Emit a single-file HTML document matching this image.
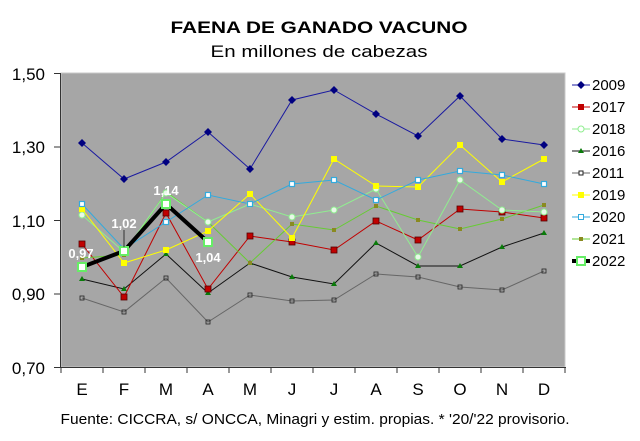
<!DOCTYPE html>
<html><head><meta charset="utf-8"><style>
body{margin:0;background:#fff;}
svg{display:block;font-family:"Liberation Sans",Arial,sans-serif;}
</style></head><body>
<svg width="640" height="441" viewBox="0 0 640 441" xmlns="http://www.w3.org/2000/svg">
<text x="319" y="33" font-size="17" font-weight="bold" text-anchor="middle" textLength="297" lengthAdjust="spacingAndGlyphs">FAENA DE GANADO VACUNO</text>
<text x="319" y="57" font-size="17" text-anchor="middle" textLength="217" lengthAdjust="spacingAndGlyphs">En millones de cabezas</text>
<rect x="61" y="73" width="504" height="294" fill="#a6a6a6" stroke="#c8c8c8" stroke-width="1"/>
<g stroke="#333" stroke-width="1">
<line x1="60.5" y1="73" x2="60.5" y2="368"/>
<line x1="60" y1="367.5" x2="566" y2="367.5"/>
<line x1="54" y1="73.5" x2="61" y2="73.5"/><line x1="54" y1="147" x2="61" y2="147"/><line x1="54" y1="220.5" x2="61" y2="220.5"/><line x1="54" y1="294" x2="61" y2="294"/><line x1="54" y1="367.5" x2="61" y2="367.5"/>
<line x1="103" y1="367" x2="103" y2="373"/><line x1="145" y1="367" x2="145" y2="373"/><line x1="187" y1="367" x2="187" y2="373"/><line x1="229" y1="367" x2="229" y2="373"/><line x1="271" y1="367" x2="271" y2="373"/><line x1="313" y1="367" x2="313" y2="373"/><line x1="355" y1="367" x2="355" y2="373"/><line x1="397" y1="367" x2="397" y2="373"/><line x1="439" y1="367" x2="439" y2="373"/><line x1="481" y1="367" x2="481" y2="373"/><line x1="523" y1="367" x2="523" y2="373"/><line x1="565" y1="367" x2="565" y2="373"/><line x1="61" y1="367" x2="61" y2="373"/>
</g>
<g font-size="17" text-anchor="end">
<text x="45" y="80">1,50</text><text x="45" y="153">1,30</text><text x="45" y="227">1,10</text><text x="45" y="300">0,90</text><text x="45" y="374">0,70</text>
</g>
<g font-size="17" text-anchor="middle">
<text x="82" y="395">E</text><text x="124" y="395">F</text><text x="166" y="395">M</text><text x="208" y="395">A</text><text x="250" y="395">M</text><text x="292" y="395">J</text><text x="334" y="395">J</text><text x="376" y="395">A</text><text x="418" y="395">S</text><text x="460" y="395">O</text><text x="502" y="395">N</text><text x="544" y="395">D</text>
</g>
<text x="315" y="424" font-size="15" text-anchor="middle" textLength="509" lengthAdjust="spacingAndGlyphs">Fuente: CICCRA, s/ ONCCA, Minagri y estim. propias. * '20/'22 provisorio.</text>

<!-- 2011 -->
<polyline fill="none" stroke="#666" stroke-width="1" points="82,298 124,312 166,278 208,322 250,295 292,301 334,300 376,274 418,277 460,287 502,290 544,271"/>
<!-- 2016 -->
<polyline fill="none" stroke="#111" stroke-width="1" points="82,279 124,289 166,254 208,293 250,263 292,277 334,284 376,243 418,266 460,266 502,247 544,233"/>
<!-- 2017 -->
<polyline fill="none" stroke="#c00000" stroke-width="1" points="82,244 124,297 166,213 208,289 250,236 292,242 334,250 376,221 418,240 460,209 502,212 544,218"/>
<!-- 2021 -->
<polyline fill="none" stroke="#66cc33" stroke-width="1" points="82,258 124,255 166,192 208,222 250,263 292,224 334,230 376,206 418,220 460,229 502,219 544,205"/>
<!-- 2018 -->
<polyline fill="none" stroke="#90ee90" stroke-width="1" points="82,215 124,252 166,193 208,222 250,204 292,217 334,210 376,189 418,257 460,180 502,210 544,212"/>
<!-- 2019 -->
<polyline fill="none" stroke="#ffff00" stroke-width="1" points="82,209 124,263 166,250 208,231 250,194 292,238 334,159 376,186 418,187 460,145 502,182 544,159"/>
<!-- 2020 -->
<polyline fill="none" stroke="#33aadd" stroke-width="1" points="82,204 124,249 166,222 208,195 250,204 292,184 334,180 376,200 418,180 460,171 502,175 544,184"/>
<!-- 2009 -->
<polyline fill="none" stroke="#1a1aa0" stroke-width="1" points="82,143 124,179 166,162 208,132 250,169 292,100 334,90 376,114 418,136 460,96 502,139 544,145"/>

<g fill="#333" stroke="#222" stroke-width="0.8">
<rect x="80" y="296" width="4" height="4" fill="none"/><rect x="122" y="310" width="4" height="4" fill="none"/><rect x="164" y="276" width="4" height="4" fill="none"/><rect x="206" y="320" width="4" height="4" fill="none"/><rect x="248" y="293" width="4" height="4" fill="none"/><rect x="290" y="299" width="4" height="4" fill="none"/><rect x="332" y="298" width="4" height="4" fill="none"/><rect x="374" y="272" width="4" height="4" fill="none"/><rect x="416" y="275" width="4" height="4" fill="none"/><rect x="458" y="285" width="4" height="4" fill="none"/><rect x="500" y="288" width="4" height="4" fill="none"/><rect x="542" y="269" width="4" height="4" fill="none"/>
</g>
<g fill="#0a7a0a">
<path d="M82 276l3 5h-6z"/><path d="M124 286l3 5h-6z"/><path d="M166 251l3 5h-6z"/><path d="M208 290l3 5h-6z"/><path d="M250 260l3 5h-6z"/><path d="M292 274l3 5h-6z"/><path d="M334 281l3 5h-6z"/><path d="M376 240l3 5h-6z"/><path d="M418 263l3 5h-6z"/><path d="M460 263l3 5h-6z"/><path d="M502 244l3 5h-6z"/><path d="M544 230l3 5h-6z"/>
</g>
<g fill="#c00000" stroke="#500" stroke-width="0.8">
<rect x="79" y="241" width="6" height="6"/><rect x="121" y="294" width="6" height="6"/><rect x="163" y="210" width="6" height="6"/><rect x="205" y="286" width="6" height="6"/><rect x="247" y="233" width="6" height="6"/><rect x="289" y="239" width="6" height="6"/><rect x="331" y="247" width="6" height="6"/><rect x="373" y="218" width="6" height="6"/><rect x="415" y="237" width="6" height="6"/><rect x="457" y="206" width="6" height="6"/><rect x="499" y="209" width="6" height="6"/><rect x="541" y="215" width="6" height="6"/>
</g>
<g fill="#8a8a20">
<rect x="80" y="256" width="4" height="4"/><rect x="122" y="253" width="4" height="4"/><rect x="164" y="190" width="4" height="4"/><rect x="206" y="220" width="4" height="4"/><rect x="248" y="261" width="4" height="4"/><rect x="290" y="222" width="4" height="4"/><rect x="332" y="228" width="4" height="4"/><rect x="374" y="204" width="4" height="4"/><rect x="416" y="218" width="4" height="4"/><rect x="458" y="227" width="4" height="4"/><rect x="500" y="217" width="4" height="4"/><rect x="542" y="203" width="4" height="4"/>
</g>
<g fill="#e8f8e8" stroke="#90ee90" stroke-width="1">
<circle cx="82" cy="215" r="3"/><circle cx="124" cy="252" r="3"/><circle cx="166" cy="193" r="3"/><circle cx="208" cy="222" r="3"/><circle cx="250" cy="204" r="3"/><circle cx="292" cy="217" r="3"/><circle cx="334" cy="210" r="3"/><circle cx="376" cy="189" r="3"/><circle cx="418" cy="257" r="3"/><circle cx="460" cy="180" r="3"/><circle cx="502" cy="210" r="3"/><circle cx="544" cy="212" r="3"/>
</g>
<g fill="#ffff00">
<rect x="79" y="206" width="6" height="6"/><rect x="121" y="260" width="6" height="6"/><rect x="163" y="247" width="6" height="6"/><rect x="205" y="228" width="6" height="6"/><rect x="247" y="191" width="6" height="6"/><rect x="289" y="235" width="6" height="6"/><rect x="331" y="156" width="6" height="6"/><rect x="373" y="183" width="6" height="6"/><rect x="415" y="184" width="6" height="6"/><rect x="457" y="142" width="6" height="6"/><rect x="499" y="179" width="6" height="6"/><rect x="541" y="156" width="6" height="6"/>
</g>
<g fill="#fff" stroke="#33aadd" stroke-width="1.2">
<rect x="79.5" y="201.5" width="5" height="5"/><rect x="121.5" y="246.5" width="5" height="5"/><rect x="163.5" y="219.5" width="5" height="5"/><rect x="205.5" y="192.5" width="5" height="5"/><rect x="247.5" y="201.5" width="5" height="5"/><rect x="289.5" y="181.5" width="5" height="5"/><rect x="331.5" y="177.5" width="5" height="5"/><rect x="373.5" y="197.5" width="5" height="5"/><rect x="415.5" y="177.5" width="5" height="5"/><rect x="457.5" y="168.5" width="5" height="5"/><rect x="499.5" y="172.5" width="5" height="5"/><rect x="541.5" y="181.5" width="5" height="5"/>
</g>
<g fill="#000080">
<path d="M82 139l4 4-4 4-4-4z"/><path d="M124 175l4 4-4 4-4-4z"/><path d="M166 158l4 4-4 4-4-4z"/><path d="M208 128l4 4-4 4-4-4z"/><path d="M250 165l4 4-4 4-4-4z"/><path d="M292 96l4 4-4 4-4-4z"/><path d="M334 86l4 4-4 4-4-4z"/><path d="M376 110l4 4-4 4-4-4z"/><path d="M418 132l4 4-4 4-4-4z"/><path d="M460 92l4 4-4 4-4-4z"/><path d="M502 135l4 4-4 4-4-4z"/><path d="M544 141l4 4-4 4-4-4z"/>
</g>
<!-- 2022 -->
<polyline fill="none" stroke="#000" stroke-width="4" points="82,267 124,251 166,204 208,242"/>
<g fill="#fff" stroke="#66ee66" stroke-width="2">
<rect x="78" y="263" width="8" height="8"/><rect x="120" y="247" width="8" height="8"/><rect x="162" y="200" width="8" height="8"/><rect x="204" y="238" width="8" height="8"/>
</g>
<line x1="124" y1="230" x2="124" y2="247" stroke="#333" stroke-width="1"/>
<g fill="#fff" font-size="13" font-weight="bold" text-anchor="middle">
<text x="81" y="258">0,97</text><text x="124" y="228">1,02</text><text x="166" y="195">1,14</text><text x="208" y="262">1,04</text>
</g>

<!-- legend -->
<g font-size="15">
<line x1="572" y1="85" x2="590" y2="85" stroke="#1a1aa0"/><path d="M581 81l4 4-4 4-4-4z" fill="#000080"/><text x="592" y="90">2009</text>
<line x1="572" y1="107" x2="590" y2="107" stroke="#c00000"/><rect x="578" y="104" width="6" height="6" fill="#c00000"/><text x="592" y="112">2017</text>
<line x1="572" y1="129" x2="590" y2="129" stroke="#90ee90"/><circle cx="581" cy="129" r="3" fill="#fff" stroke="#90ee90"/><text x="592" y="134">2018</text>
<line x1="572" y1="151" x2="590" y2="151" stroke="#111"/><path d="M581 148l3 5h-6z" fill="#0a7a0a"/><text x="592" y="156">2016</text>
<line x1="572" y1="173" x2="590" y2="173" stroke="#666"/><rect x="579" y="171" width="4" height="4" fill="#fff" stroke="#222"/><text x="592" y="178">2011</text>
<line x1="572" y1="195" x2="590" y2="195" stroke="#ffff00"/><rect x="578" y="192" width="6" height="6" fill="#ffff00"/><text x="592" y="200">2019</text>
<line x1="572" y1="217" x2="590" y2="217" stroke="#33aadd"/><rect x="578.5" y="214.5" width="5" height="5" fill="#fff" stroke="#33aadd"/><text x="592" y="222">2020</text>
<line x1="572" y1="239" x2="590" y2="239" stroke="#66cc33"/><rect x="579" y="237" width="4" height="4" fill="#8a8a20"/><text x="592" y="244">2021</text>
<line x1="572" y1="261" x2="590" y2="261" stroke="#000" stroke-width="4"/><rect x="577" y="257" width="8" height="8" fill="#fff" stroke="#66ee66" stroke-width="2"/><text x="592" y="266">2022</text>
</g>
</svg>
</body></html>
